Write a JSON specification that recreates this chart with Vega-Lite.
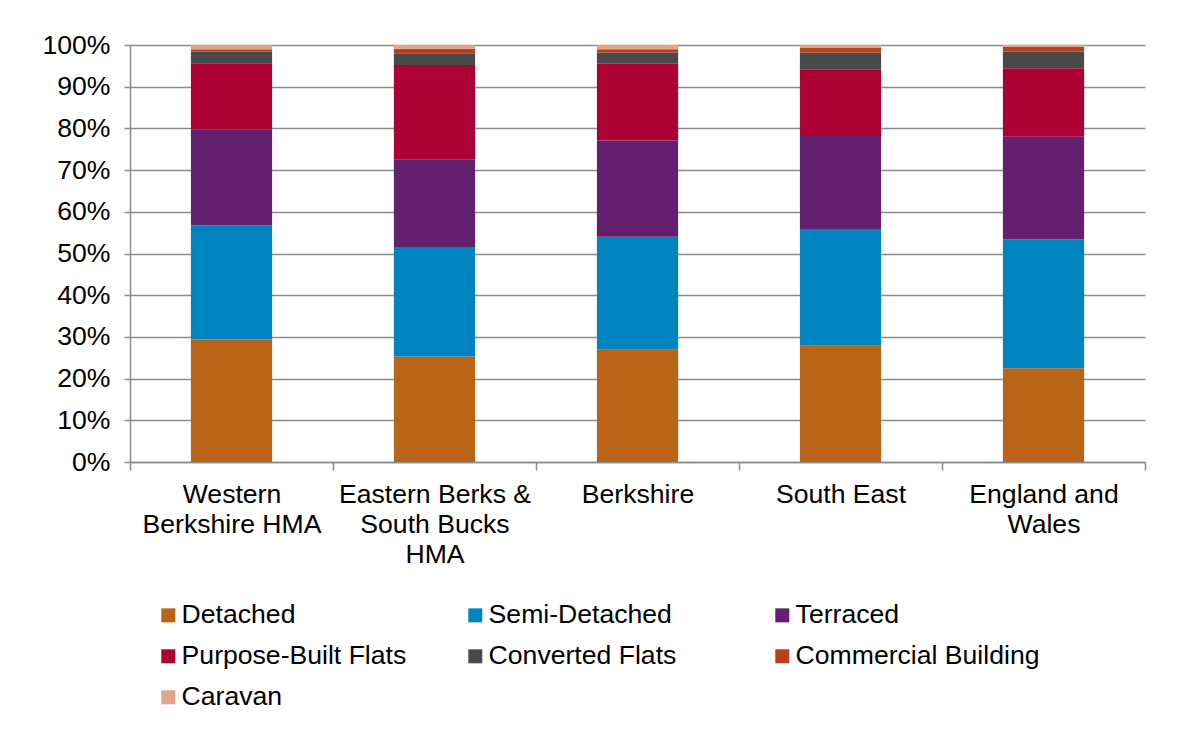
{
  "$schema": "https://vega.github.io/schema/vega-lite/v6.json",
  "width": 1015,
  "height": 417,
  "autosize": {"type": "none"},
  "padding": {"left": 130, "top": 45, "right": 36, "bottom": 267},
  "background": "white",
  "config": {
    "font": "Liberation Sans",
    "view": {"stroke": null},
    "axis": {"labelFont": "Liberation Sans", "labelColor": "black", "labelFontSize": 26.6, "domainColor": "#8c8c8c", "tickColor": "#8c8c8c", "gridColor": "#8c8c8c", "domainWidth": 1.5, "tickWidth": 1.5, "gridWidth": 1.5}
  },
  "data": {
    "values": [
      {"area": "Western|Berkshire HMA", "type": "Detached", "pct": 29.4, "rank": 1},
      {"area": "Western|Berkshire HMA", "type": "Semi-Detached", "pct": 27.4, "rank": 2},
      {"area": "Western|Berkshire HMA", "type": "Terraced", "pct": 23.0, "rank": 3},
      {"area": "Western|Berkshire HMA", "type": "Purpose-Built Flats", "pct": 15.8, "rank": 4},
      {"area": "Western|Berkshire HMA", "type": "Converted Flats", "pct": 2.8, "rank": 5},
      {"area": "Western|Berkshire HMA", "type": "Commercial Building", "pct": 0.6, "rank": 6},
      {"area": "Western|Berkshire HMA", "type": "Caravan", "pct": 1.0, "rank": 7},
      {"area": "Eastern Berks &|South Bucks|HMA", "type": "Detached", "pct": 25.3, "rank": 1},
      {"area": "Eastern Berks &|South Bucks|HMA", "type": "Semi-Detached", "pct": 26.1, "rank": 2},
      {"area": "Eastern Berks &|South Bucks|HMA", "type": "Terraced", "pct": 21.2, "rank": 3},
      {"area": "Eastern Berks &|South Bucks|HMA", "type": "Purpose-Built Flats", "pct": 22.6, "rank": 4},
      {"area": "Eastern Berks &|South Bucks|HMA", "type": "Converted Flats", "pct": 2.8, "rank": 5},
      {"area": "Eastern Berks &|South Bucks|HMA", "type": "Commercial Building", "pct": 1.1, "rank": 6},
      {"area": "Eastern Berks &|South Bucks|HMA", "type": "Caravan", "pct": 0.9, "rank": 7},
      {"area": "Berkshire", "type": "Detached", "pct": 26.9, "rank": 1},
      {"area": "Berkshire", "type": "Semi-Detached", "pct": 27.1, "rank": 2},
      {"area": "Berkshire", "type": "Terraced", "pct": 23.1, "rank": 3},
      {"area": "Berkshire", "type": "Purpose-Built Flats", "pct": 18.4, "rank": 4},
      {"area": "Berkshire", "type": "Converted Flats", "pct": 2.7, "rank": 5},
      {"area": "Berkshire", "type": "Commercial Building", "pct": 0.8, "rank": 6},
      {"area": "Berkshire", "type": "Caravan", "pct": 1.0, "rank": 7},
      {"area": "South East", "type": "Detached", "pct": 28.0, "rank": 1},
      {"area": "South East", "type": "Semi-Detached", "pct": 27.7, "rank": 2},
      {"area": "South East", "type": "Terraced", "pct": 22.5, "rank": 3},
      {"area": "South East", "type": "Purpose-Built Flats", "pct": 16.0, "rank": 4},
      {"area": "South East", "type": "Converted Flats", "pct": 4.0, "rank": 5},
      {"area": "South East", "type": "Commercial Building", "pct": 1.1, "rank": 6},
      {"area": "South East", "type": "Caravan", "pct": 0.7, "rank": 7},
      {"area": "England and|Wales", "type": "Detached", "pct": 22.5, "rank": 1},
      {"area": "England and|Wales", "type": "Semi-Detached", "pct": 30.9, "rank": 2},
      {"area": "England and|Wales", "type": "Terraced", "pct": 24.6, "rank": 3},
      {"area": "England and|Wales", "type": "Purpose-Built Flats", "pct": 16.4, "rank": 4},
      {"area": "England and|Wales", "type": "Converted Flats", "pct": 4.0, "rank": 5},
      {"area": "England and|Wales", "type": "Commercial Building", "pct": 1.1, "rank": 6},
      {"area": "England and|Wales", "type": "Caravan", "pct": 0.5, "rank": 7}
    ]
  },
  "mark": {"type": "bar", "width": {"band": 0.4}},
  "encoding": {
    "x": {
      "field": "area", "type": "nominal", "sort": null,
      "scale": {"paddingInner": 0, "paddingOuter": 0},
      "axis": {"title": null, "labelAngle": 0, "labelExpr": "split(datum.label, '|')", "labelLineHeight": 30, "labelBaseline": "top", "tickSize": 8, "tickBand": "extent", "labelPadding": 11, "grid": false, "labelLimit": 300}
    },
    "y": {
      "field": "pct", "type": "quantitative", "stack": "zero",
      "scale": {"domain": [0, 100], "nice": false},
      "axis": {"title": null, "values": [0, 10, 20, 30, 40, 50, 60, 70, 80, 90, 100], "labelExpr": "datum.value + '%'", "tickSize": 6, "labelPadding": 14, "grid": true}
    },
    "order": {"field": "rank", "type": "quantitative", "sort": "ascending"},
    "color": {
      "field": "type", "type": "nominal",
      "scale": {
        "domain": ["Detached", "Semi-Detached", "Terraced", "Purpose-Built Flats", "Converted Flats", "Commercial Building", "Caravan"],
        "range": ["#BA6418", "#0084C0", "#62206E", "#AD0034", "#48494B", "#B8401A", "#E0A48A"]
      },
      "legend": {
        "title": null, "orient": "none", "legendX": 25, "legendY": 557,
        "direction": "horizontal", "columns": 3, "gridAlign": "all", "columnPadding": 36, "rowPadding": 14,
        "symbolType": "square", "symbolSize": 196, "symbolStrokeWidth": 0, "labelFontSize": 26.6, "labelFont": "Liberation Sans", "labelColor": "black", "labelOffset": 0, "labelLimit": 400
      }
    }
  }
}
